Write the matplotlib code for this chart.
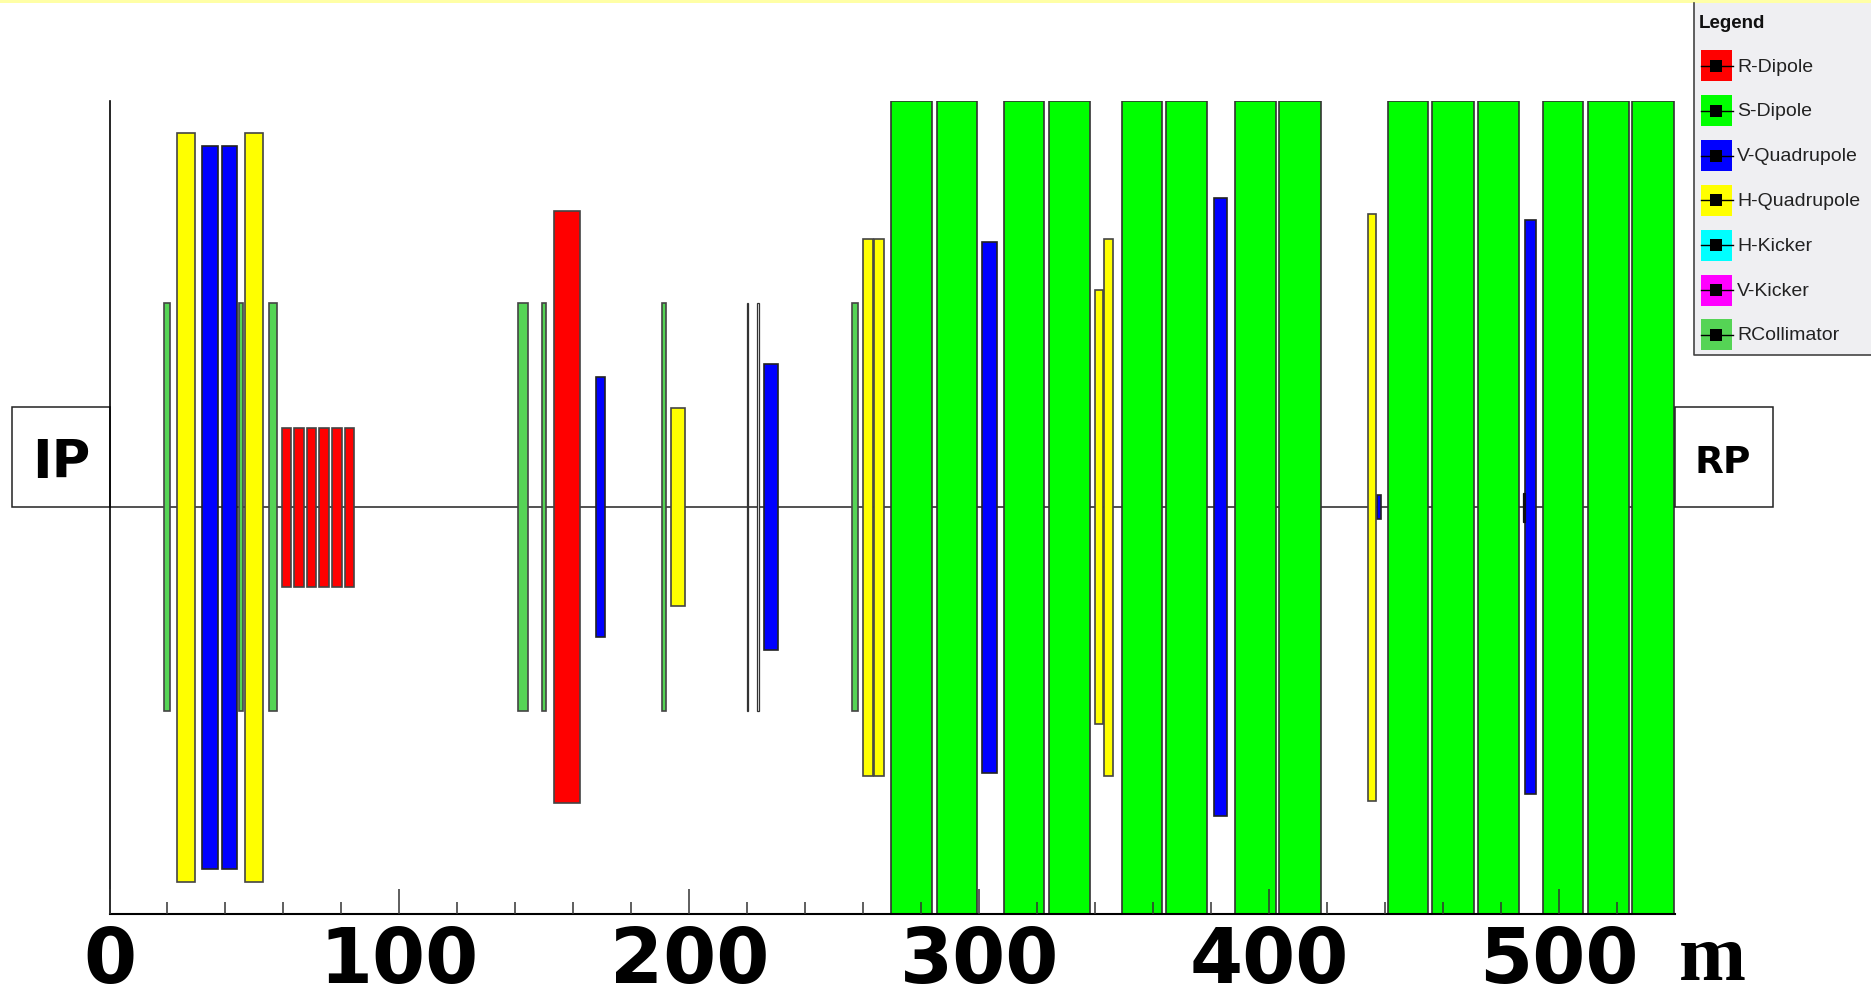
import matplotlib
matplotlib.use("Agg")
import matplotlib.pyplot as plt
from matplotlib.patches import Rectangle

W, H = 1871, 988

# element edges in metres, half height in the same units as the y axis
r_dipole = [(59.3, 62.9, 6.65), (63.6, 67.3, 6.65), (68.0, 71.5, 6.65), (72.2, 75.9, 6.65),
            (76.6, 80.3, 6.65), (81.0, 84.7, 6.65), (153.1, 162.6, 24.8)]
s_dipole = [(269.5, 284.0, 34.05), (285.2, 299.6, 34.05), (308.2, 322.6, 34.05), (323.9, 338.3, 34.05),
            (349.0, 363.4, 34.05), (364.2, 378.6, 34.05), (388.1, 402.5, 34.05), (403.3, 418.1, 34.05),
            (440.7, 455.1, 34.05), (456.0, 470.8, 34.05), (472.0, 486.4, 34.05), (494.2, 508.6, 34.05),
            (509.9, 524.3, 34.05), (525.1, 540.0, 34.05)]
v_quad = [(31.8, 37.7, 30.3), (38.7, 44.1, 30.3), (167.5, 171.2, 10.9), (225.5, 230.9, 12.0),
          (300.8, 306.2, 22.25), (380.7, 385.6, 25.9), (437.1, 438.7, 1.0), (488.1, 492.2, 24.05)]
h_quad = [(23.1, 29.7, 31.4), (46.5, 53.1, 31.4), (193.4, 198.8, 8.3), (259.7, 263.4, 22.5),
          (263.4, 267.5, 22.5), (339.9, 342.8, 18.2), (342.8, 346.5, 22.5), (433.8, 437.1, 24.6)]
collimator = [(18.5, 21.0, 17.1), (44.5, 46.1, 17.1), (54.8, 58.1, 17.1), (140.7, 144.4, 17.1),
              (149.0, 150.6, 17.1), (190.5, 192.2, 17.1), (256.0, 258.4, 17.1)]
empty = [(219.8, 220.2, 17.1), (223.5, 223.9, 17.1)]
dark = [(487.7, 488.1, 1.2)]

legend_names = ["R-Dipole", "S-Dipole", "V-Quadrupole", "H-Quadrupole", "H-Kicker", "V-Kicker", "RCollimator"]
legend_colors = ["#ff0000", "#00ff00", "#0000ff", "#ffff00", "#00ffff", "#ff00ff", "#55d455"]

major_ticks = [0, 100, 200, 300, 400, 500]
minor_ticks = [20, 40, 60, 80, 120, 140, 160, 180, 220, 240, 260, 280, 320, 340, 360, 380, 420, 440, 460, 480, 520]

fig = plt.figure(figsize=(W / 100, H / 100), dpi=100, facecolor="white")
ax = fig.add_axes([109.5 / W, 1 - 913.5 / H, (1675 - 109.5) / W, (913.5 - 101) / H])


def draw(items, color, edge="#444444", lw=1.2, inset=0.2):
    for a, b, h in items:
        ax.bar(a + inset, 2 * h, b - a - 2 * inset, bottom=-h, align="edge", color=color, edgecolor=edge, linewidth=lw)


draw(r_dipole, legend_colors[0])
draw(s_dipole, legend_colors[1], edge="#333333")
draw(v_quad, legend_colors[2], edge="#222222")
draw(h_quad, legend_colors[3])
draw(collimator, legend_colors[6])
draw(empty, "white", edge="#333333", lw=0.9, inset=0)
draw(dark, "#111111", edge="#111111", lw=0.9, inset=0)

ax.axhline(0, color="#222222", lw=1.1, zorder=0.5)
ax.set_xlim(0, 540)
ax.set_ylim(-34.05, 34.05)
ax.spines["top"].set_visible(False)
ax.spines["right"].set_visible(False)
ax.spines["left"].set_linewidth(1.2)
ax.spines["bottom"].set_linewidth(1.5)
ax.set_yticks([])
ax.set_axisbelow(False)
ax.set_xticks(major_ticks)
ax.set_xticklabels([str(t) for t in major_ticks], fontsize=55, fontweight="bold", family="DejaVu Sans")
ax.set_xticks(minor_ticks, minor=True)
ax.tick_params(axis="x", which="major", direction="in", length=18, width=1.1, color="#333333", pad=8)
ax.tick_params(axis="x", which="minor", direction="in", length=9, width=1.1, color="#333333")

# end boxes either side of the beamline
ax.add_patch(Rectangle((-33.7, 0), 33.7, 8.4, fc="white", ec="#222222", lw=1.1, clip_on=False))
ax.add_patch(Rectangle((540, 0), 33.7, 8.4, fc="white", ec="#222222", lw=1.1, clip_on=False))
ax.text(-16.8, 3.7, "IP", fontsize=38, fontweight="bold", ha="center", va="center", family="DejaVu Sans")
ax.text(556.5, 3.7, "RP", fontsize=27, fontweight="bold", ha="center", va="center", family="DejaVu Sans")
ax.text(553, -39.6, "m", fontsize=58, fontweight="bold", family="Liberation Serif", ha="center", va="baseline")

# overlay in pixel coordinates for the top strip and legend panel
ov = fig.add_axes([0, 0, 1, 1])
ov.axis("off")
ov.patch.set_alpha(0)
ov.add_patch(Rectangle((0, 0), W, 3, fc="#ffffa6", ec="none"))
ov.add_patch(Rectangle((1694, 3), 180, 352, fc="#efeff2", ec="none"))
ov.plot([1694, 1694, W], [3, 355, 355], color="#444444", lw=1.2)
ov.text(1699, 23, "Legend", fontsize=13.5, fontweight="bold", family="Liberation Sans", va="center", color="#111111")
for i, (name, col) in enumerate(zip(legend_names, legend_colors)):
    top = 50.5 + 44.8 * i
    ov.add_patch(Rectangle((1701, top), 31, 31, fc=col, ec="none"))
    ov.plot([1701, 1733], [top + 15.5, top + 15.5], color="black", lw=1.0)
    ov.plot([1716.5], [top + 15.5], marker="s", color="black", ms=8, mew=0)
    ov.text(1737, top + 16.5, name, fontsize=14, family="Liberation Sans", va="center", color="#222222")
ov.set_xlim(0, W)
ov.set_ylim(H, 0)

fig.savefig("out.png", dpi=100)
